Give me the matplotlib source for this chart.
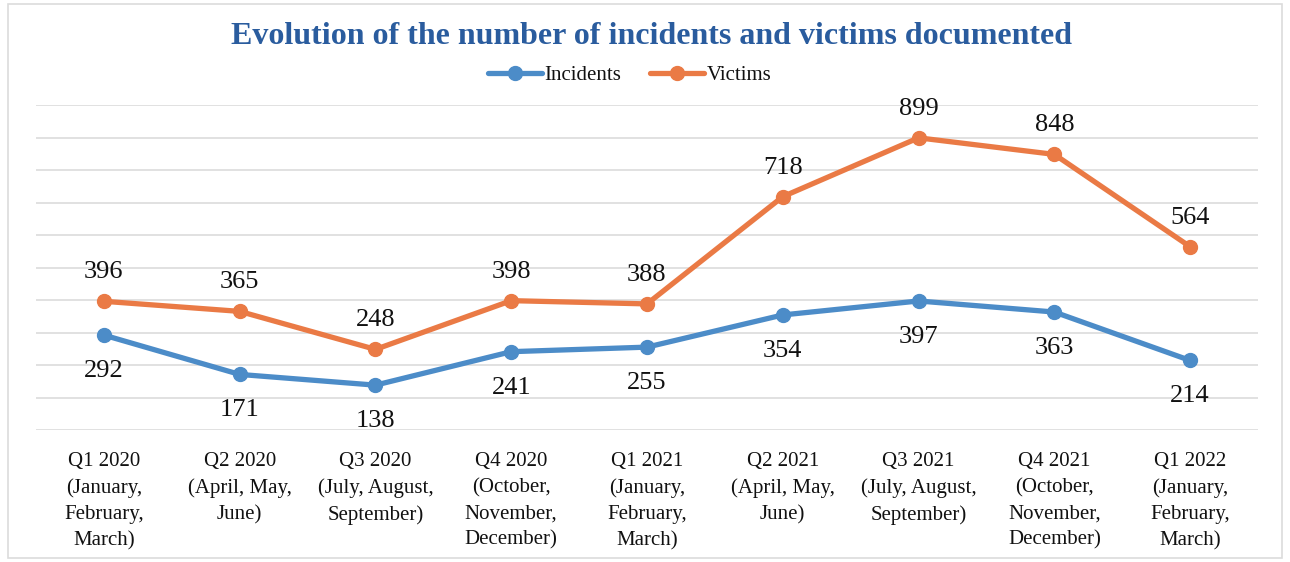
import matplotlib
matplotlib.use("Agg")
import matplotlib.pyplot as plt
from matplotlib.patches import Rectangle

categories = ["Q1 2020\n(January,\nFebruary,\nMarch)",
              "Q2 2020\n(April, May,\nJune)",
              "Q3 2020\n(July, August,\nSeptember)",
              "Q4 2020\n(October,\nNovember,\nDecember)",
              "Q1 2021\n(January,\nFebruary,\nMarch)",
              "Q2 2021\n(April, May,\nJune)",
              "Q3 2021\n(July, August,\nSeptember)",
              "Q4 2021\n(October,\nNovember,\nDecember)",
              "Q1 2022\n(January,\nFebruary,\nMarch)"]
incidents = [292, 171, 138, 241, 255, 354, 397, 363, 214]
victims = [396, 365, 248, 398, 388, 718, 899, 848, 564]

plt.rcParams['font.family'] = ['Liberation Serif', 'DejaVu Serif']

fig = plt.figure(figsize=(12.9, 5.62), dpi=100)
ax = fig.add_axes([36/1290, 1 - 430/562, (1258-36)/1290, (430-105)/562])

blue = "#4C8CC8"
orange = "#EA7A45"
x = list(range(len(categories)))
ax.plot(x, incidents, color=blue, lw=3.8, marker='o', ms=10, label="Incidents", solid_capstyle='round')
ax.plot(x, victims, color=orange, lw=3.8, marker='o', ms=10, label="Victims", solid_capstyle='round')

for i, v in enumerate(victims):
    ax.annotate(str(v), (i, v), xytext=(0, 29), textcoords='offset pixels',
                ha='center', va='center', fontsize=19, color='#111111')
for i, v in enumerate(incidents):
    ax.annotate(str(v), (i, v), xytext=(0, -36), textcoords='offset pixels',
                ha='center', va='center', fontsize=19, color='#111111')

ax.set_xlim(-0.5, 8.5)
ax.set_ylim(0, 1000)
ax.set_yticks(range(0, 1001, 100))
ax.yaxis.grid(True, color='#DCDCDC', lw=1.2)
ax.set_axisbelow(True)
ax.tick_params(axis='y', left=False, labelleft=False)
ax.tick_params(axis='x', length=0, pad=16)
ax.set_xticks(x)
ax.set_xticklabels(categories, fontsize=15, linespacing=1.5, color='#111111')
for s in ax.spines.values():
    s.set_visible(False)

fig.text(0.505, 1 - 36/562, "Evolution of the number of incidents and victims documented",
         ha='center', va='center', fontsize=23, fontweight='bold', color='#2A5C9E')

leg = fig.legend(loc='center', bbox_to_anchor=(0.488, 1 - 75/562), ncol=2, frameon=False,
                 fontsize=15, handlelength=2.6, handletextpad=0.1, columnspacing=1.4,
                 labelcolor='#111111')

fig.patches.append(Rectangle((8/1290, 4/562), 1 - 16/1290, 1 - 8/562, transform=fig.transFigure,
                             fill=False, edgecolor='#DCDCDC', lw=1.2))

fig.savefig("out.png", dpi=100)
